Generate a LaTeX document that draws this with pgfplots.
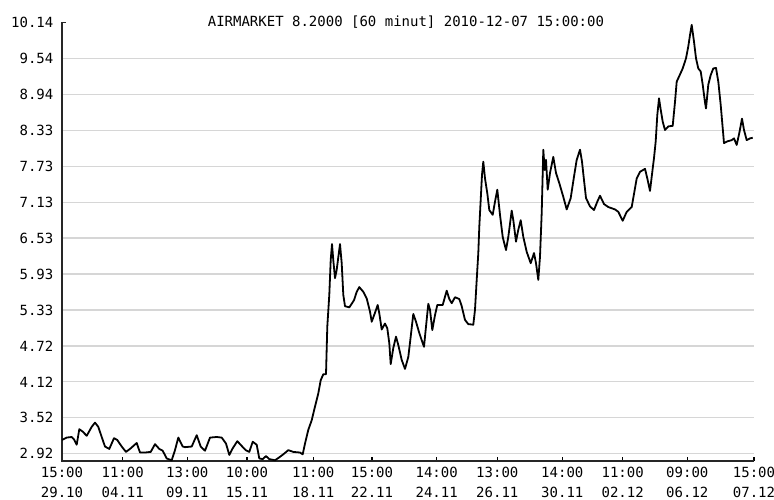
\documentclass[border=0pt]{standalone}
\usepackage{pgfplots}
\pgfplotsset{compat=1.18}
\usepackage{fontspec}
\setmainfont{DejaVu Sans Mono}
\begin{document}
\begin{tikzpicture}[x=1pt,y=1pt]
\path[use as bounding box] (0,0) rectangle (774,500);
\begin{axis}[
  at={(62pt,39pt)}, anchor=south west,
  scale only axis, width=692pt, height=438.5pt,
  xmin=62, xmax=754, ymin=2.798, ymax=10.14,
  axis x line*=bottom, axis y line*=left,
  axis line style={black!85, -},
  tick align=inside, major tick length=4pt,
  xtick={62,122.7,187.3,247,313.3,372,436.7,497.3,562.3,622.7,687.3,754},
  xticklabels={{15:00\\29.10},{11:00\\04.11},{13:00\\09.11},{10:00\\15.11},{11:00\\18.11},{15:00\\22.11},{14:00\\24.11},{13:00\\26.11},{14:00\\30.11},{11:00\\02.12},{09:00\\06.12},{15:00\\07.12}},
  xticklabel style={align=center, font=\fontsize{14}{20}\selectfont, inner sep=0pt, yshift=-6pt},
  xtick style={draw=black, line width=1.2pt},
  ytick={2.92,3.5217,4.1233,4.725,5.3267,5.9283,6.53,7.1317,7.7333,8.335,8.9367,9.5383},
  yticklabels={2.92,3.52,4.12,4.72,5.33,5.93,6.53,7.13,7.73,8.33,8.94,9.54},
  ytick style={draw=none},
  extra y ticks={10.14}, extra y tick labels={10.14},
  extra y tick style={grid=none},
  yticklabel style={font=\fontsize{14}{16}\selectfont, inner sep=0pt, xshift=-8.5pt},
  ymajorgrids, major grid style={color=black!16, line width=1.3pt},
  clip=false,
]
\node[anchor=base, inner sep=0pt, font=\fontsize{14}{16}\selectfont] at (rel axis cs:0.497,1) [yshift=-4pt] {AIRMARKET 8.2000 [60 minut] 2010-12-07 15:00:00};
\draw[black!85, line width=2pt] (rel axis cs:0,1) -- (rel axis cs:0,0) -- (rel axis cs:1,0);
\draw[black!85, line width=1.2pt] (rel axis cs:0,1) -- ([xshift=4pt]rel axis cs:0,1);
\addplot[black, line width=1.8pt, line join=round, no marks] table {
x y
62 3.15
66.7 3.19
71.7 3.20
74 3.16
76.7 3.07
79.3 3.33
82.7 3.29
86.7 3.22
91.7 3.37
95 3.44
98.3 3.37
101.7 3.20
105 3.04
109.3 3.00
114 3.18
117.3 3.15
121.7 3.04
126 2.95
130.7 3.01
136.7 3.10
140 2.94
145 2.94
150.7 2.95
155 3.08
159.3 3.00
162.7 2.97
166.7 2.84
171.7 2.81
175 2.98
178.3 3.19
182.7 3.04
185 3.03
191.7 3.04
196.7 3.23
200.7 3.04
205 2.97
210 3.19
216.7 3.20
221.7 3.19
226 3.09
229.3 2.90
232.7 3.01
237.3 3.13
241.7 3.05
245.7 2.98
249.3 2.95
252.7 3.12
256.7 3.07
259.3 2.84
262.7 2.83
266 2.88
269.3 2.83
275 2.81
279.3 2.86
283.3 2.91
288.3 2.98
293.3 2.95
300 2.94
302.7 2.91
305 3.09
308.3 3.32
311.7 3.48
315 3.71
318.3 3.93
320.7 4.15
323.3 4.25
326 4.25
327.3 5.05
329.3 5.58
330.7 6.16
332 6.43
333.3 6.16
335 5.86
336.7 6.00
339 6.30
340 6.43
341.7 6.11
343.3 5.58
345 5.39
349.3 5.37
354 5.49
356.7 5.63
359.3 5.71
363.3 5.63
366.7 5.52
370 5.30
371.7 5.13
375 5.28
377.7 5.41
379.3 5.27
381.7 5.00
385 5.10
387.3 5.02
389.3 4.77
390.7 4.42
393.3 4.69
396 4.88
398.3 4.74
401.7 4.49
405 4.34
408.3 4.54
410.7 4.88
413.3 5.26
416 5.13
419.3 4.94
421.7 4.82
424 4.71
426 5.05
428.3 5.43
430 5.33
432.3 4.99
435 5.24
437.3 5.41
442.7 5.41
446.7 5.65
449.3 5.51
451.7 5.44
455 5.54
459.3 5.51
461.7 5.39
465 5.16
468.3 5.09
473.3 5.08
475 5.33
476.7 5.83
478.3 6.28
479.3 6.72
480.7 7.17
482 7.59
483.3 7.81
485 7.53
487.3 7.28
489.3 7.00
492.7 6.92
495 7.14
497.3 7.34
500 6.92
502.7 6.55
506 6.33
508.3 6.55
511.7 6.99
513.3 6.83
516 6.47
518.3 6.67
520.7 6.83
523.3 6.55
526.7 6.30
530.7 6.11
534 6.28
536 6.11
538.3 5.83
540 6.22
541.7 6.95
543.3 8.01
544.7 7.67
546 7.84
547.7 7.34
550 7.62
553.3 7.89
556 7.62
559.3 7.45
563.3 7.22
566.7 7.01
570.7 7.20
574 7.56
576.7 7.84
580 8.01
582 7.81
584 7.50
586 7.20
590 7.06
594 7.00
597.3 7.14
600 7.24
604 7.10
608.3 7.05
615 7.01
618.3 6.97
622.7 6.82
626.7 6.97
631.7 7.05
634 7.27
636.7 7.53
640 7.64
645 7.69
647.3 7.53
650 7.32
652.3 7.64
654 7.87
655.7 8.15
657.3 8.59
659 8.87
660.7 8.68
662.7 8.48
665 8.34
668.3 8.40
672.7 8.41
675 8.81
676.7 9.15
680 9.27
682.7 9.37
686 9.54
688.3 9.74
690 9.93
691.7 10.10
694 9.82
696 9.54
698.3 9.37
700.7 9.32
702.7 9.10
705 8.80
706 8.70
708.3 9.10
710.7 9.26
713.3 9.37
716 9.38
718.3 9.15
720.7 8.76
724 8.12
727.3 8.15
731.7 8.17
734 8.20
736.7 8.09
739.3 8.29
742 8.53
744 8.34
746.7 8.17
750 8.20
752.7 8.21
};
\end{axis}
\end{tikzpicture}
\end{document}
